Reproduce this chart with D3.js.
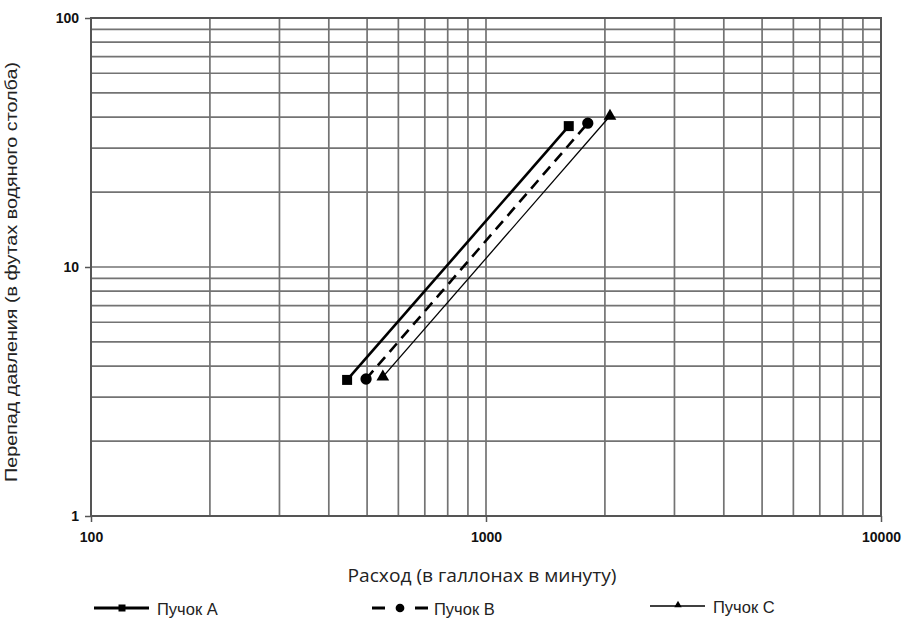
<!DOCTYPE html>
<html><head><meta charset="utf-8">
<script src="https://cdn.jsdelivr.net/npm/d3@7"></script>
<style>body{margin:0;background:#fff;} svg{display:block;font-family:"Liberation Sans",Arial,sans-serif;}</style>
</head><body><div id="chart"></div>
<script>
const seriesNames = ["Пучок A", "Пучок B", "Пучок C"];
const flowA = [445, 1620];
const headA = [3.52, 36.8];
const flowB = [497, 1810];
const headB = [3.55, 37.8];
const flowC = [548, 2060];
const headC = [3.62, 40.4];
const xTickLabels = [100, 1000, 10000];
const yTickLabels = [1, 10, 100];
const xTitle = "Расход (в галлонах в минуту)";
const yTitle = "Перепад давления (в футах водяного столба)";

const W = 902, H = 618;
const m = {l: 91, r: 21, t: 18, b: 102};
const svg = d3.select("#chart").append("svg").attr("width", W).attr("height", H);
const x = d3.scaleLog().domain([100, 10000]).range([m.l, W - m.r]);
const y = d3.scaleLog().domain([1, 100]).range([H - m.b, m.t]);

const gridCol = "#737373";
const xg = [], yg = [];
for (let d = 100; d < 10000; d *= 10) for (let k = 1; k <= 10; k++) xg.push(d * k);
for (let d = 1; d < 100; d *= 10) for (let k = 1; k <= 10; k++) yg.push(d * k);
const xgu = Array.from(new Set(xg)), ygu = Array.from(new Set(yg));
svg.append("g").selectAll("line").data(xgu).join("line")
  .attr("x1", d => x(d)).attr("x2", d => x(d)).attr("y1", y(1)).attr("y2", y(100))
  .attr("stroke", gridCol).attr("stroke-width", 1.7);
svg.append("g").selectAll("line").data(ygu).join("line")
  .attr("y1", d => y(d)).attr("y2", d => y(d)).attr("x1", x(100)).attr("x2", x(10000))
  .attr("stroke", gridCol).attr("stroke-width", 1.7);
svg.append("rect").attr("x", x(100)).attr("y", y(100)).attr("width", x(10000) - x(100)).attr("height", y(1) - y(100))
  .attr("fill", "none").attr("stroke", "#555").attr("stroke-width", 2);

const xAxis = d3.axisBottom(x).tickValues(xTickLabels).tickFormat(d3.format("d")).tickSize(6).tickPadding(10);
const gx = svg.append("g").attr("transform", `translate(0,${y(1)})`).call(xAxis);
const yAxis = d3.axisLeft(y).tickValues(yTickLabels).tickFormat(d3.format("d")).tickSize(6).tickPadding(6);
const gy = svg.append("g").attr("transform", `translate(${x(100)},0)`).call(yAxis);
[gx, gy].forEach(g => {
  g.select(".domain").remove();
  g.selectAll(".tick line").attr("stroke", "#555").attr("stroke-width", 1.5);
  g.selectAll("text").attr("font-size", 14).attr("font-weight", "bold").attr("fill", "#111")
    .attr("font-family", "'Liberation Sans',Arial,sans-serif");
});

svg.append("text").attr("x", 482).attr("y", 582).attr("text-anchor", "middle")
  .attr("font-family", "'Open Sans',sans-serif").attr("font-size", 18.5)
  .attr("textLength", 269).attr("lengthAdjust", "spacingAndGlyphs")
  .attr("fill", "#222").text(xTitle);
svg.append("text").attr("transform", `translate(17,272) rotate(-90)`).attr("text-anchor", "middle")
  .attr("font-size", 17).attr("textLength", 420).attr("lengthAdjust", "spacingAndGlyphs")
  .attr("fill", "#222").text(yTitle);

const series = [
  {name: seriesNames[0], fx: flowA, hy: headA, w: 2.6, dash: null, sym: d3.symbolSquare, size: 100, lsize: 49},
  {name: seriesNames[1], fx: flowB, hy: headB, w: 2.6, dash: "11,7", sym: d3.symbolCircle, size: 100, lsize: 60},
  {name: seriesNames[2], fx: flowC, hy: headC, w: 1.3, dash: null, sym: d3.symbolTriangle, size: 70, lsize: 24}
];
const line = d3.line().x(d => x(d[0])).y(d => y(d[1]));
series.forEach(s => {
  const pts = s.fx.map((f, i) => [f, s.hy[i]]);
  svg.append("path").datum(pts).attr("d", line).attr("fill", "none").attr("stroke", "#000")
    .attr("stroke-width", s.w).attr("stroke-dasharray", s.dash);
  svg.append("g").selectAll("path").data(pts).join("path")
    .attr("transform", d => `translate(${x(d[0])},${y(d[1])})`)
    .attr("d", d3.symbol().type(s.sym).size(s.size)).attr("fill", "#000");
});

// legend
const legX = [94, 372, 650];
const legY = [608, 608, 606];
series.forEach((s, i) => {
  const g = svg.append("g").attr("transform", `translate(${legX[i]},${legY[i]})`);
  g.append("line").attr("x1", 0).attr("x2", i === 1 ? 56 : 55).attr("y1", 0).attr("y2", 0).attr("stroke", "#000")
    .attr("stroke-width", i === 2 ? 1.3 : 3).attr("stroke-dasharray", s.dash ? "13,30" : null);
  g.append("path").attr("transform", `translate(28,${i === 2 ? -1 : 0})`)
    .attr("d", d3.symbol().type(s.sym).size(s.lsize)).attr("fill", "#000");
  g.append("text").attr("x", i === 1 ? 62 : 63).attr("y", 7).attr("font-size", 16.5).attr("fill", "#222").text(s.name);
});
</script></body></html>
